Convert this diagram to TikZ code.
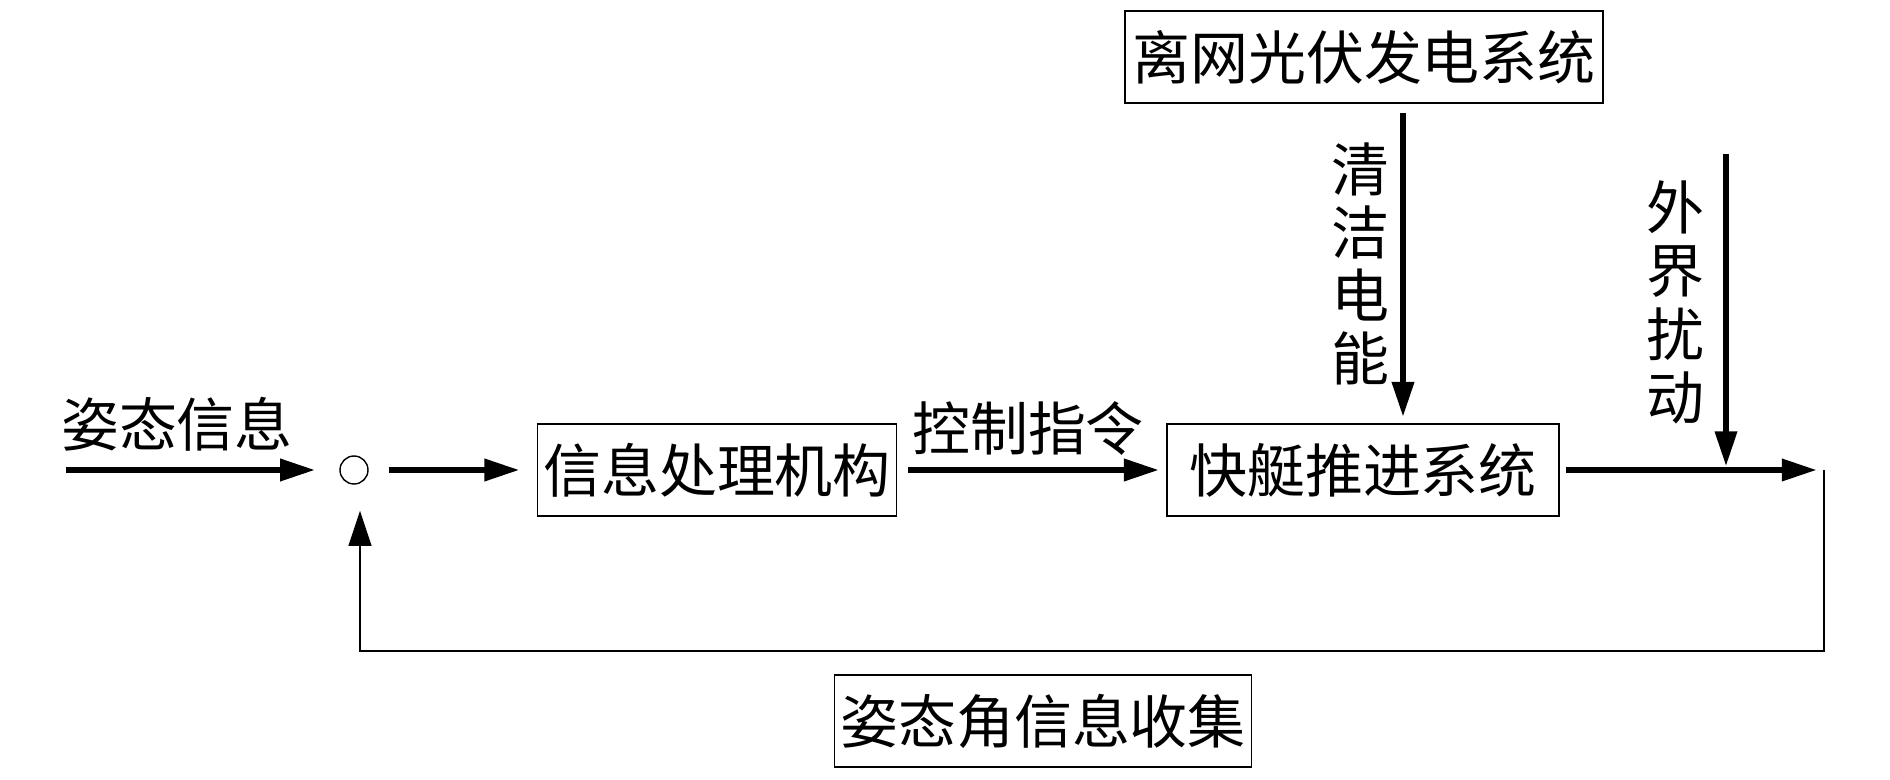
\documentclass[tikz,border=0pt]{standalone}
\usepackage{fontspec}
\newfontfamily\cjk{Noto Sans CJK SC}
\usetikzlibrary{calc, arrows.meta, positioning}

\tikzset{
  blk/.style={draw, line width=1pt, inner sep=0pt, minimum height=1.84cm,
    font=\cjk\fontsize{33}{40}\selectfont},
  lbl/.style={inner sep=0pt, font=\cjk\fontsize{33}{40}\selectfont},
  vlbl/.style={inner sep=0pt, align=center, font=\cjk\fontsize{33}{36}\selectfont},
  sig/.style={line width=3.6pt, -{Triangle[length=20pt,width=12pt]}},
  fb/.style={line width=1pt, -{Triangle[length=20pt,width=13pt]}}
}

\begin{document}
\begin{tikzpicture}
        \useasboundingbox (0,0) rectangle (37.8,-15.6);

        % blocks
        \node[draw, circle, line width=0.8pt, minimum size=0.56cm, inner sep=0pt] (sum) at (7.08,-9.40) {};
        \node[blk, minimum width=7.18cm] (proc) at (14.34,-9.40) {信息处理机构};
        \node[blk, minimum width=7.84cm] (boat) at (27.26,-9.40) {快艇推进系统};
        \node[blk, minimum width=9.56cm] (pv) at (27.28,-1.14) {离网光伏发电系统};
        \node[blk, minimum width=8.34cm] (col) at (20.86,-14.42) {姿态角信息收集};

        \coordinate (in) at (1.32,-9.40);
        \coordinate (tap) at (36.48,-9.40);
        \coordinate (dist) at (34.52,-3.08);

        % labels
        \node[lbl] (inlbl) at (3.54,-8.48) {姿态信息};
        \node[lbl] (cmd) at (20.56,-8.56) {控制指令};
        \node[vlbl] (energy) at (27.2,-5.28) {清\\洁\\电\\能};
        \node[vlbl] (dlbl) at (33.5,-6.05) {外\\界\\扰\\动};

        % forward path
        \draw[sig, shorten >=0.48cm] (in) -- (sum.west);
        \draw[sig, shorten <=0.4cm, shorten >=0.34cm] (sum.east) -- (proc.west);
        \draw[sig, shorten <=0.22cm, shorten >=0.14cm] (proc.east) -- (boat.west);
        \draw[sig, shorten <=0.12cm, shorten >=0.14cm] (boat.east) -- (tap);
        \draw[sig, shorten <=0.18cm, shorten >=0.12cm] ($(pv.south)+(0.78,0)$) -- ($(boat.north)+(0.8,0)$);
        \draw[sig, shorten >=0.07cm] (dist) -- (dist |- tap);

        % feedback
        \draw[fb, shorten >=0.52cm] (tap) -- ++(0,-3.62) -| ($(sum.south)+(0.12,0)$);
\end{tikzpicture}
\end{document}
